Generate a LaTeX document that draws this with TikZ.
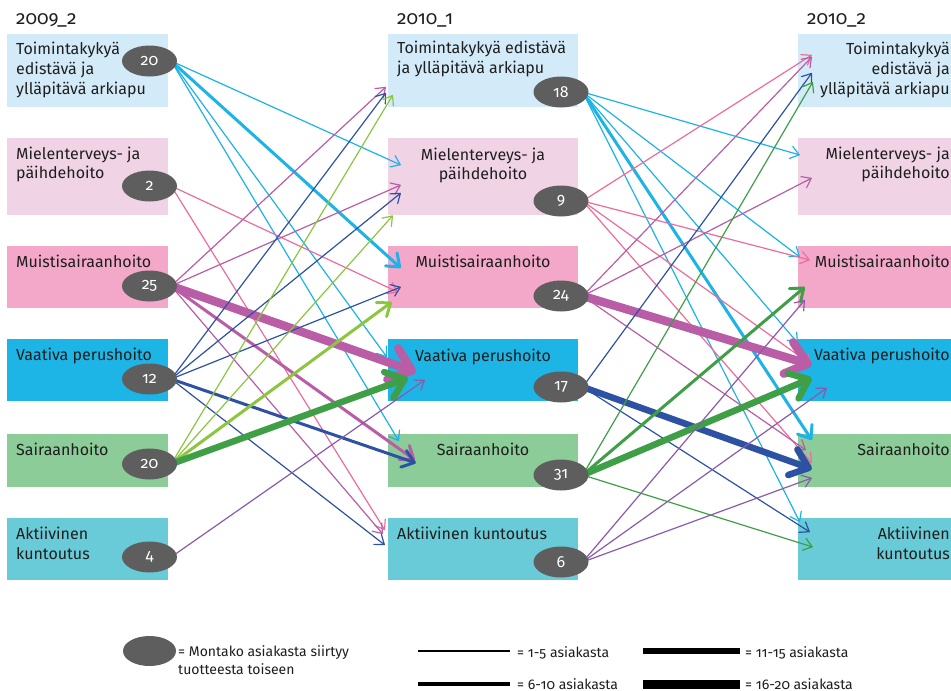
\documentclass[tikz,border=0pt]{standalone}
\usepackage{fontspec}
\setmainfont{Fira Sans}[Numbers=OldStyle]
\usetikzlibrary{arrows.meta,shapes.geometric}
\pgfdeclarelayer{bg}
\pgfdeclarelayer{conn}
\pgfsetlayers{bg,conn,main}
\definecolor{bxA}{HTML}{D3EBF8}
\definecolor{bxB}{HTML}{F0D4E6}
\definecolor{bxC}{HTML}{F4A8C9}
\definecolor{bxD}{HTML}{1DB4E6}
\definecolor{bxE}{HTML}{8BCC98}
\definecolor{bxF}{HTML}{69CBD7}
\definecolor{ellG}{HTML}{5E5E5E}
\definecolor{cyanL}{HTML}{1DB3E6}
\definecolor{pinkL}{HTML}{EE6C9C}
\definecolor{magL}{HTML}{B85DA6}
\definecolor{blueL}{HTML}{2E52A3}
\definecolor{lgrL}{HTML}{8CC63F}
\definecolor{grL}{HTML}{3E9F47}
\definecolor{purL}{HTML}{8A5BAA}
\definecolor{txtC}{HTML}{1E1E1E}
\tikzset{
  lbox/.style={rectangle, inner sep=0pt, draw=none, minimum width=161pt},
  mbox/.style={rectangle, inner sep=0pt, draw=none, minimum width=190pt},
  rbox/.style={rectangle, inner sep=0pt, draw=none, minimum width=154pt},
  ell/.style={ellipse, fill=ellG, draw=none, minimum width=55pt, minimum height=31pt, inner sep=0pt, text=white, font=\fontsize{16}{16}\selectfont},
  txt/.style={inner sep=0pt, text=txtC, font=\fontsize{16}{20}\selectfont},
  hdr/.style={inner sep=0pt, text=txtC, font=\fontsize{19}{20}\selectfont, anchor=base west},
  legtxt/.style={inner sep=0pt, text=txtC, font=\fontsize{14}{16}\selectfont, anchor=base west},
  barb/.style={-{Straight Barb[length=6.5pt 1.6, width=9pt 2.8, round]}},
  cw1/.style={barb, line width=1.2pt},
  cw2/.style={barb, line width=3pt},
  cw3/.style={barb, line width=6.5pt},
  cw4/.style={barb, line width=8.5pt},
}
\begin{document}
\begin{tikzpicture}[x=1pt,y=-1pt]
\useasboundingbox (0,0) rectangle (951,691);
\begin{pgfonlayer}{bg}
\fill[white] (0,0) rectangle (951,691);
% boxes
\node[lbox, fill=bxA, minimum height=73pt] (lb1) at (87.5,70.5) {};
\node[lbox, fill=bxB, minimum height=77pt] (lb2) at (87.5,176.5) {};
\node[lbox, fill=bxC, minimum height=62pt] (lb3) at (87.5,277) {};
\node[lbox, fill=bxD, minimum height=62pt] (lb4) at (87.5,370) {};
\node[lbox, fill=bxE, minimum height=53pt] (lb5) at (87.5,460.5) {};
\node[lbox, fill=bxF, minimum height=62pt] (lb6) at (87.5,549) {};
\node[mbox, fill=bxA, minimum height=73pt] (mb1) at (483,70.5) {};
\node[mbox, fill=bxB, minimum height=77pt] (mb2) at (483,176.5) {};
\node[mbox, fill=bxC, minimum height=62pt] (mb3) at (483,277) {};
\node[mbox, fill=bxD, minimum height=62pt] (mb4) at (483,370) {};
\node[mbox, fill=bxE, minimum height=53pt] (mb5) at (483,460.5) {};
\node[mbox, fill=bxF, minimum height=62pt] (mb6) at (483,549) {};
\node[rbox, fill=bxA, minimum height=73pt] (rb1) at (875,70.5) {};
\node[rbox, fill=bxB, minimum height=77pt] (rb2) at (875,176.5) {};
\node[rbox, fill=bxC, minimum height=62pt] (rb3) at (875,277) {};
\node[rbox, fill=bxD, minimum height=62pt] (rb4) at (875,370) {};
\node[rbox, fill=bxE, minimum height=53pt] (rb5) at (875,460.5) {};
\node[rbox, fill=bxF, minimum height=62pt] (rb6) at (875,549) {};
% headers
\node[hdr] (h1) at (16,24) {2009\_2};
\node[hdr] (h2) at (397,24) {2010\_1};
\node[hdr] (h3) at (807,24) {2010\_2};
% left texts
\node[txt, anchor=base west] (lt11) at (16,54) {Toimintakykyä};
\node[txt, anchor=base west] (lt12) at (16,74.5) {edistävä ja};
\node[txt, anchor=base west] (lt13) at (16,94.5) {ylläpitävä arkiapu};
\node[txt, anchor=base west] (lt21) at (16,159) {Mielenterveys- ja};
\node[txt, anchor=base west] (lt22) at (16,178.5) {päihdehoito};
\node[txt, anchor=base west] (lt3) at (16,267) {Muistisairaanhoito};
\node[txt, anchor=base west] (lt4) at (16,360.5) {Vaativa perushoito};
\node[txt, anchor=base west] (lt5) at (16,455.5) {Sairaanhoito};
\node[txt, anchor=base west] (lt61) at (16,539.5) {Aktiivinen};
\node[txt, anchor=base west] (lt62) at (16,559) {kuntoutus};
% middle texts
\node[txt, anchor=base west] (mt11) at (397,53.5) {Toimintakykyä edistävä};
\node[txt, anchor=base west] (mt12) at (397,73.5) {ja ylläpitävä arkiapu};
\node[txt, anchor=base] (mt21) at (483,160) {Mielenterveys- ja};
\node[txt, anchor=base] (mt22) at (483,179.5) {päihdehoito};
\node[txt, anchor=base] (mt3) at (483,267) {Muistisairaanhoito};
\node[txt, anchor=base] (mt4) at (483,361) {Vaativa perushoito};
\node[txt, anchor=base] (mt5) at (483,455.5) {Sairaanhoito};
\node[txt, anchor=base west] (mt6) at (397,539.5) {Aktiivinen kuntoutus};
% right texts
\node[txt, anchor=base east] (rt11) at (950,54) {Toimintakykyä};
\node[txt, anchor=base east] (rt12) at (950,74.5) {edistävä ja};
\node[txt, anchor=base east] (rt13) at (950,94.5) {ylläpitävä arkiapu};
\node[txt, anchor=base east] (rt21) at (950,159) {Mielenterveys- ja};
\node[txt, anchor=base east] (rt22) at (950,178.5) {päihdehoito};
\node[txt, anchor=base east] (rt3) at (950,267) {Muistisairaanhoito};
\node[txt, anchor=base east] (rt4) at (950,360.5) {Vaativa perushoito};
\node[txt, anchor=base east] (rt5) at (950,455.5) {Sairaanhoito};
\node[txt, anchor=base east] (rt61) at (950,539.5) {Aktiivinen};
\node[txt, anchor=base east] (rt62) at (950,559) {kuntoutus};
\end{pgfonlayer}
% ellipses
\node[ell] (le1) at (149.5,61) {20};
\node[ell] (le2) at (149.5,186) {2};
\node[ell] (le3) at (149.5,286) {25};
\node[ell] (le4) at (149.5,379) {12};
\node[ell] (le5) at (149.5,464) {20};
\node[ell] (le6) at (149.5,557) {4};
\node[ell] (me1) at (561,92) {18};
\node[ell] (me2) at (561,201) {9};
\node[ell] (me3) at (561,296) {24};
\node[ell] (me4) at (561,387) {17};
\node[ell] (me5) at (561,475) {31};
\node[ell] (me6) at (561,562) {6};
\begin{pgfonlayer}{conn}
% left -> middle
\draw[cw1,cyanL] ([shift={(-6,0)}]le1.east) -- ([shift={(13,-11.5)}]mb2.west);
\draw[cw2,cyanL] ([shift={(-6,0)}]le1.east) -- ([shift={(13,-9)}]mb3.west);
\draw[cw1,cyanL] ([shift={(-6,0)}]le1.east) -- ([shift={(-1,-13)}]mb4.west);
\draw[cw1,cyanL] ([shift={(-6,0)}]le1.east) -- ([shift={(11,-19.5)}]mb5.west);
\draw[cw1,pinkL] ([shift={(-6,0)}]le2.east) -- ([shift={(10,15)}]mb3.west);
\draw[cw1,pinkL] ([shift={(-6,0)}]le2.east) -- ([shift={(-3,-19)}]mb6.west);
\draw[cw1,magL] ([shift={(-6,0)}]le3.east) -- ([shift={(-2,16.5)}]mb1.west);
\draw[cw1,magL] ([shift={(-6,0)}]le3.east) -- ([shift={(13,8.5)}]mb2.west);
\draw[cw4,magL] ([shift={(-6,0)}]le3.east) -- ([shift={(28,2)}]mb4.west);
\draw[cw2,magL] ([shift={(-6,0)}]le3.east) -- ([shift={(27,-0.5)}]mb5.west);
\draw[cw1,magL] ([shift={(-6,0)}]le3.east) -- ([shift={(-5,-15)}]mb6.west);
\draw[cw1,blueL] ([shift={(-6,0)}]le4.east) -- ([shift={(-2,22.5)}]mb1.west);
\draw[cw1,blueL] ([shift={(-6,0)}]le4.east) -- ([shift={(13,16.5)}]mb2.west);
\draw[cw1,blueL] ([shift={(-6,0)}]le4.east) -- ([shift={(13,10)}]mb3.west);
\draw[cw2,blueL] ([shift={(-6,0)}]le4.east) -- ([shift={(28,2.5)}]mb5.west);
\draw[cw1,blueL] ([shift={(-6,0)}]le4.east) -- ([shift={(-3,-4)}]mb6.west);
\draw[cw1,lgrL] ([shift={(-6,0)}]le5.east) -- ([shift={(5,24.5)}]mb1.west);
\draw[cw1,lgrL] ([shift={(-6,0)}]le5.east) -- ([shift={(5,39)}]mb2.west);
\draw[cw2,lgrL] ([shift={(-6,0)}]le5.east) -- ([shift={(4,25)}]mb3.west);
\draw[cw3,grL] ([shift={(-6,0)}]le5.east) -- ([shift={(20,8)}]mb4.west);
\draw[cw1,purL] ([shift={(-6,0)}]le6.east) -- ([shift={(37,10)}]mb4.west);
% middle -> right
\draw[cw1,cyanL] ([shift={(-6,0)}]me1.east) -- ([shift={(2,-21.5)}]rb2.west);
\draw[cw1,cyanL] ([shift={(-6,0)}]me1.east) -- ([shift={(2,-20)}]rb3.west);
\draw[cw1,cyanL] ([shift={(-6,0)}]me1.east) -- ([shift={(0,-27)}]rb4.west);
\draw[cw2,cyanL] ([shift={(-6,0)}]me1.east) -- ([shift={(14,-20.5)}]rb5.west);
\draw[cw1,cyanL] ([shift={(-6,0)}]me1.east) -- ([shift={(2,-27)}]rb6.west);
\draw[cw1,pinkL] ([shift={(-6,0)}]me2.east) -- ([shift={(14,-15.5)}]rb1.west);
\draw[cw1,pinkL] ([shift={(-6,0)}]me2.east) -- ([shift={(12,-17)}]rb3.west);
\draw[cw1,pinkL] ([shift={(-6,0)}]me2.east) -- ([shift={(14,-5)}]rb4.west);
\draw[cw1,pinkL] ([shift={(-6,0)}]me2.east) -- ([shift={(14,2.5)}]rb5.west);
\draw[cw1,magL] ([shift={(-6,0)}]me3.east) -- ([shift={(14,-13.5)}]rb1.west);
\draw[cw1,magL] ([shift={(-6,0)}]me3.east) -- ([shift={(14,1.5)}]rb2.west);
\draw[cw4,magL] ([shift={(-6,0)}]me3.east) -- ([shift={(14,-5)}]rb4.west);
\draw[cw1,magL] ([shift={(-6,0)}]me3.east) -- ([shift={(8,-10.5)}]rb5.west);
\draw[cw1,blueL] ([shift={(-6,0)}]me4.east) -- ([shift={(14,2.5)}]rb1.west);
\draw[cw3,blueL] ([shift={(-6,0)}]me4.east) -- ([shift={(14,8.5)}]rb5.west);
\draw[cw1,blueL] ([shift={(-6,0)}]me4.east) -- ([shift={(12,-17)}]rb6.west);
\draw[cw1,grL] ([shift={(-6,0)}]me5.east) -- ([shift={(15,11.5)}]rb1.west);
\draw[cw2,grL] ([shift={(-6,0)}]me5.east) -- ([shift={(7,10)}]rb3.west);
\draw[cw3,grL] ([shift={(-6,0)}]me5.east) -- ([shift={(14,8)}]rb4.west);
\draw[cw1,grL] ([shift={(-6,0)}]me5.east) -- ([shift={(15,-2)}]rb6.west);
\draw[cw1,purL] ([shift={(-6,0)}]me6.east) -- ([shift={(7,23)}]rb3.west);
\draw[cw1,purL] ([shift={(-6,0)}]me6.east) -- ([shift={(29,18)}]rb4.west);
\draw[cw1,purL] ([shift={(-6,0)}]me6.east) -- ([shift={(14,17.5)}]rb5.west);
\end{pgfonlayer}
% legend
\node[ell, minimum width=53pt, minimum height=30pt] (legE) at (149.5,651) {};
\node[legtxt] (legT1) at (178,656) {= Montako asiakasta siirtyy};
\node[legtxt] (legT2) at (178,674) {tuotteesta toiseen};
\coordinate (lg1a) at (418,651); \coordinate (lg1b) at (510,651);
\coordinate (lg2a) at (418,684); \coordinate (lg2b) at (510,684);
\coordinate (lg3a) at (643,651); \coordinate (lg3b) at (740,651);
\coordinate (lg4a) at (643,684); \coordinate (lg4b) at (740,684);
\draw[line width=1.2pt] (lg1a) -- (lg1b);
\draw[line width=3.5pt] (lg2a) -- (lg2b);
\draw[line width=6pt] (lg3a) -- (lg3b);
\draw[line width=9pt] (lg4a) -- (lg4b);
\node[legtxt] (legL1) at (517,657) {= 1-5 asiakasta};
\node[legtxt] (legL2) at (517,689) {= 6-10 asiakasta};
\node[legtxt] (legL3) at (745,657) {= 11-15 asiakasta};
\node[legtxt] (legL4) at (745,689) {= 16-20 asiakasta};
\end{tikzpicture}
\end{document}
